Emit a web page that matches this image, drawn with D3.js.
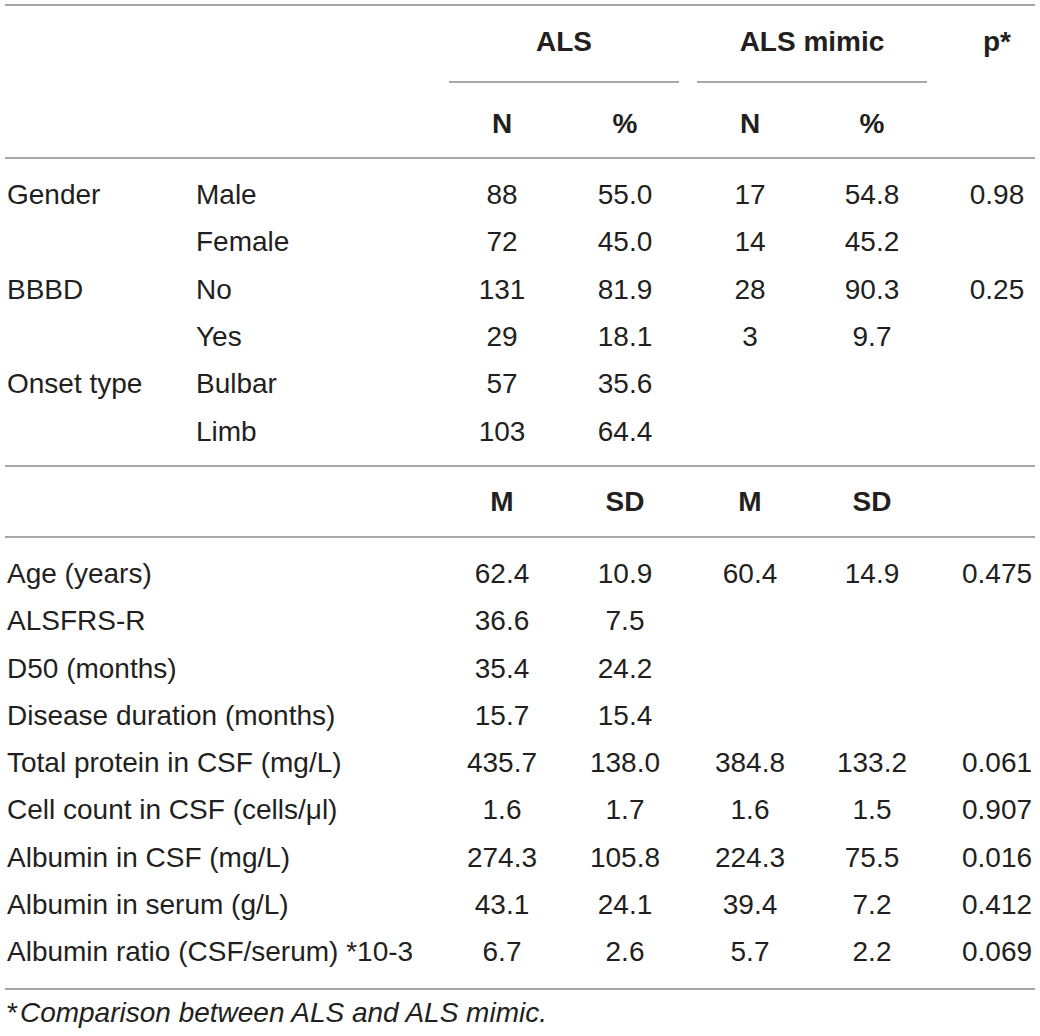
<!DOCTYPE html>
<html>
<head>
<meta charset="utf-8">
<script src="https://cdn.jsdelivr.net/npm/d3@7"></script>
<style>
  html, body { margin: 0; padding: 0; background: #fff; }
  svg { display: block; }
  text { font-family: "Liberation Sans", Arial, Helvetica, sans-serif; fill: #231f20; }
</style>
</head>
<body>
<svg id="chart" width="1040" height="1036"></svg>
<script>
// ---- Data ----
const groupHeaders = ["ALS", "ALS mimic"];
const pHeader = "p*";
const countHeaders = ["N", "%", "N", "%"];
const statHeaders = ["M", "SD", "M", "SD"];

// Categorical block
const catVariables = ["Gender", "", "BBBD", "", "Onset type", ""];
const catLevels = ["Male", "Female", "No", "Yes", "Bulbar", "Limb"];
const alsN = ["88", "72", "131", "29", "57", "103"];
const alsPct = ["55.0", "45.0", "81.9", "18.1", "35.6", "64.4"];
const mimicN = ["17", "14", "28", "3", "", ""];
const mimicPct = ["54.8", "45.2", "90.3", "9.7", "", ""];
const catP = ["0.98", "", "0.25", "", "", ""];

// Continuous block
const contVariables = [
  "Age (years)", "ALSFRS-R", "D50 (months)", "Disease duration (months)",
  "Total protein in CSF (mg/L)", "Cell count in CSF (cells/\u03bcl)",
  "Albumin in CSF (mg/L)", "Albumin in serum (g/L)", "Albumin ratio (CSF/serum) *10-3"
];
const alsM = ["62.4", "36.6", "35.4", "15.7", "435.7", "1.6", "274.3", "43.1", "6.7"];
const alsSD = ["10.9", "7.5", "24.2", "15.4", "138.0", "1.7", "105.8", "24.1", "2.6"];
const mimicM = ["60.4", "", "", "", "384.8", "1.6", "224.3", "39.4", "5.7"];
const mimicSD = ["14.9", "", "", "", "133.2", "1.5", "75.5", "7.2", "2.2"];
const contP = ["0.475", "", "", "", "0.061", "0.907", "0.016", "0.412", "0.069"];

const footnote = "Comparison between ALS and ALS mimic.";

// ---- Layout ----
const W = 1040;
const fontSize = 28;
const baseOff = 10; // center -> baseline
const svg = d3.select("#chart");

const colKeys = ["c1", "c2", "c3", "c4", "p"];
const colX = d3.scaleOrdinal().domain(colKeys).range([502, 625, 750, 872, 997]);
const groupX = d3.scaleOrdinal().domain(groupHeaders).range([564, 812]);
const spanX = d3.scaleOrdinal().domain(groupHeaders).range([[449, 679], [697, 927]]);

const catY = d3.scalePoint().domain(d3.range(catLevels.length)).range([194, 430.5]);
const contY = d3.scalePoint().domain(d3.range(contVariables.length)).range([573, 951]);

const lineColor = "#8a8a8a";
function hline(y, x1, x2) {
  svg.append("line").attr("x1", x1).attr("x2", x2).attr("y1", y).attr("y2", y)
    .attr("stroke", lineColor).attr("stroke-width", 1.6);
}
function txt(x, cy, s, opts = {}) {
  return svg.append("text")
    .attr("x", x).attr("y", cy + baseOff)
    .attr("font-size", fontSize)
    .attr("text-anchor", opts.anchor || "middle")
    .attr("font-weight", opts.bold ? "bold" : "normal")
    .attr("font-style", opts.italic ? "italic" : "normal")
    .text(s);
}

// rules
hline(5, 5, 1035);
groupHeaders.forEach(g => hline(82, spanX(g)[0], spanX(g)[1]));
hline(158, 5, 1035);
hline(466, 5, 1035);
hline(537, 5, 1035);
hline(989, 5, 1035);

// headers
groupHeaders.forEach(g => txt(groupX(g), 41, g, { bold: true }));
txt(colX("p"), 41, pHeader, { bold: true });
countHeaders.forEach((h, i) => txt(colX(colKeys[i]), 122.5, h, { bold: true }));
statHeaders.forEach((h, i) => txt(colX(colKeys[i]), 501, h, { bold: true }));

// categorical block
const catCols = [alsN, alsPct, mimicN, mimicPct, catP];
catLevels.forEach((lvl, i) => {
  const y = catY(i);
  if (catVariables[i]) txt(7, y, catVariables[i], { anchor: "start" });
  txt(196, y, lvl, { anchor: "start" });
  catCols.forEach((col, j) => { if (col[i]) txt(colX(colKeys[j]), y, col[i]); });
});

// continuous block
const contCols = [alsM, alsSD, mimicM, mimicSD, contP];
contVariables.forEach((v, i) => {
  const y = contY(i);
  txt(7, y, v, { anchor: "start" });
  contCols.forEach((col, j) => { if (col[i]) txt(colX(colKeys[j]), y, col[i]); });
});

// footnote
const fn = svg.append("text").attr("x", 7).attr("y", 1012 + baseOff).attr("font-size", fontSize);
fn.append("tspan").text("*");
fn.append("tspan").attr("dx", 2).attr("font-style", "italic").text(footnote);
</script>
</body>
</html>
